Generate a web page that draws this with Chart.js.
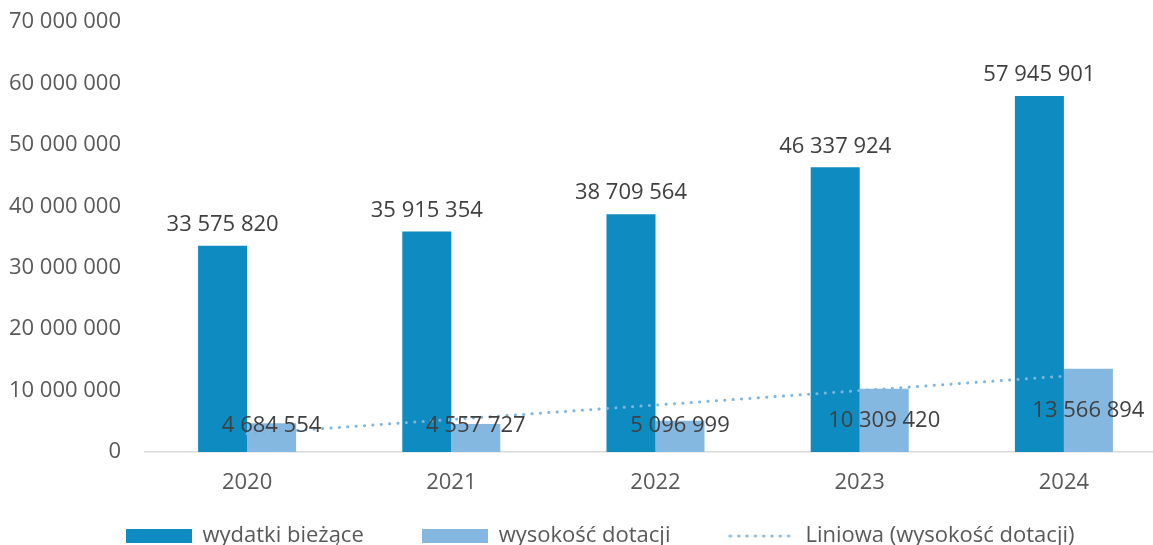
<!DOCTYPE html>
<html>
<head>
<meta charset="utf-8">
<script src="https://cdn.jsdelivr.net/npm/chart.js@4.4.0/dist/chart.umd.min.js"></script>
<style>
  html, body { margin: 0; padding: 0; background: #fff; overflow: hidden; }
  #wrap { width: 1166px; height: 545px; position: relative; }
</style>
</head>
<body>
<div id="wrap"><canvas id="wydatkiChart"></canvas></div>
<script>
// lata
var lata = ["2020", "2021", "2022", "2023", "2024"];
// wydatki bieżące
var wydatkiBiezace = [33575820, 35915354, 38709564, 46337924, 57945901];
// wysokość dotacji
var wysokoscDotacji = [4684554, 4557727, 5096999, 10309420, 13566894];
// linia trendu
var liniaTrendu = [2940000, 5290000, 7640000, 9990000, 12350000];
// podziałka osi Y
var osYMax = 70000000;
var osYKrok = 10000000;

var kolorCiemny = "#0E8BC0";
var kolorJasny = "#85B8E0";
var kolorTrendu = "#7DB5DF";
var czcionka = { family: "'Open Sans', sans-serif", size: 22 };

function formatLiczby(v) {
  return String(Math.round(v)).replace(/\B(?=(\d{3})+(?!\d))/g, " ");
}

// symbole legendy
function prostokat(kolor) {
  var c = document.createElement("canvas");
  c.width = 66;
  c.height = 14;
  var ctx = c.getContext("2d");
  ctx.fillStyle = kolor;
  ctx.fillRect(0, 0, 66, 14);
  return c;
}
function kropki(kolor) {
  var c = document.createElement("canvas");
  c.width = 66;
  c.height = 14;
  var ctx = c.getContext("2d");
  ctx.fillStyle = kolor;
  for (var x = 2; x < 66; x += 8.3) {
    ctx.beginPath();
    ctx.arc(x, 7, 1.6, 0, Math.PI * 2);
    ctx.fill();
  }
  return c;
}
var symbole = [prostokat(kolorCiemny), prostokat(kolorJasny), kropki(kolorTrendu)];

// etykiety danych
var etykietyPlugin = {
  id: "etykiety",
  afterDatasetsDraw: function (chart) {
    var ctx = chart.ctx;
    var baza = chart.scales.y.getPixelForValue(0);
    ctx.save();
    ctx.font = "22px 'Open Sans', sans-serif";
    ctx.fillStyle = "#404040";
    ctx.textAlign = "center";
    ctx.textBaseline = "middle";
    chart.getDatasetMeta(0).data.forEach(function (bar, i) {
      ctx.fillText(formatLiczby(wydatkiBiezace[i]), bar.x, bar.y - 21);
    });
    chart.getDatasetMeta(1).data.forEach(function (bar, i) {
      var y = Math.min((bar.y + baza) / 2, baza - 26);
      ctx.fillText(formatLiczby(wysokoscDotacji[i]), bar.x, y);
    });
    ctx.restore();
  },
};

// przesunięcie legendy (ciaśniej pod osią, środek jak w oryginale)
var legendaPlugin = {
  id: "legenda",
  afterLayout: function (chart) {
    var lg = chart.legend;
    lg.left += 17;
    lg.right += 17;
    lg.top -= 38;
  },
};

var wydatkiChartConfig = {
  type: "bar",
  data: {
    labels: lata,
    datasets: [
      {
        label: "wydatki bieżące",
        data: wydatkiBiezace,
        backgroundColor: kolorCiemny,
        categoryPercentage: 0.48,
        barPercentage: 1,
        order: 1,
      },
      {
        label: "wysokość dotacji",
        data: wysokoscDotacji,
        backgroundColor: kolorJasny,
        categoryPercentage: 0.48,
        barPercentage: 1,
        order: 1,
      },
      {
        type: "line",
        label: "Liniowa (wysokość dotacji)",
        data: liniaTrendu,
        borderColor: kolorTrendu,
        borderWidth: 3,
        borderDash: [0.1, 8.3],
        borderCapStyle: "round",
        pointRadius: 0,
        fill: false,
        order: 0,
      },
    ],
  },
  options: {
    responsive: true,
    maintainAspectRatio: false,
    animation: false,
    layout: {
      padding: { left: 0, top: 22, right: 0, bottom: 0 },
    },
    plugins: {
      legend: {
        position: "bottom",
        maxHeight: 40,
        labels: {
          usePointStyle: true,
          pointStyleWidth: 66,
          boxHeight: 14,
          padding: 58,
          color: "#595959",
          font: czcionka,
          sort: function (a, b) {
            return a.datasetIndex - b.datasetIndex;
          },
          generateLabels: function (chart) {
            var items = Chart.defaults.plugins.legend.labels.generateLabels(chart);
            items.forEach(function (it) {
              it.pointStyle = symbole[it.datasetIndex];
            });
            return items;
          },
        },
      },
      tooltip: { enabled: false },
    },
    scales: {
      x: {
        grid: { display: false },
        border: { color: "#D9D9D9", width: 1.5 },
        ticks: { color: "#595959", font: czcionka, padding: 10 },
        afterFit: function (s) {
          s.height = 53;
        },
      },
      y: {
        min: 0,
        max: osYMax,
        grid: { display: false },
        border: { display: false },
        ticks: {
          stepSize: osYKrok,
          color: "#595959",
          font: czcionka,
          padding: 16,
          callback: function (v) {
            return formatLiczby(v);
          },
        },
        afterFit: function (s) {
          s.width = 145;
          s.paddingTop = 0;
          s.paddingBottom = 0;
        },
      },
    },
  },
  plugins: [etykietyPlugin, legendaPlugin],
};

var wydatkiChart = new Chart(document.getElementById("wydatkiChart"), wydatkiChartConfig);
</script>
</body>
</html>
